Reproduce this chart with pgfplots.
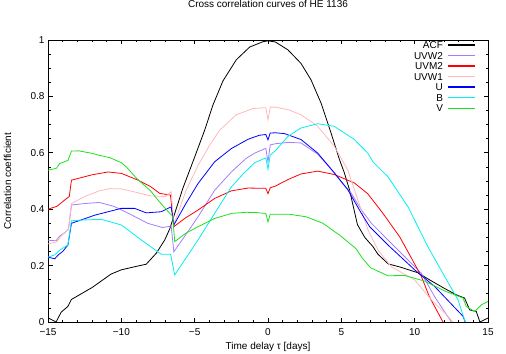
\documentclass[border=0pt]{standalone}
\usepackage{fontspec}
\setmainfont{Liberation Sans}
\usepackage{pgfplots}
\pgfplotsset{compat=1.18}

\definecolor{cUVWtwo}{RGB}{165,125,250}
\definecolor{cUVWone}{RGB}{255,185,190}
\definecolor{cV}{RGB}{30,225,30}
\definecolor{cB}{RGB}{0,240,240}

\newcommand{\gfont}{\fontsize{10bp}{10.5bp}\selectfont}
% legend row: colour, label, y (rel axis)
\newcommand{\legrow}[3]{%
  \draw[#1, line width=1.2bp] (rel axis cs:0.909,#3) -- (rel axis cs:0.970,#3);
  \node[font=\gfont, anchor=base east, inner sep=0pt] at ([yshift=-3.6bp]rel axis cs:0.898,#3) {#2};}

\begin{document}
\begin{tikzpicture}
\useasboundingbox (-48bp,-32bp) rectangle (458bp,322bp);
\begin{axis}[
  scale only axis, width=440bp, height=282bp,
  xmin=-15, xmax=15, ymin=0, ymax=1,
  xtick={-15,-10,...,15}, xticklabels={−15,−10,−5,0,5,10,15},
  ytick={0,0.2,...,1}, yticklabels={0,0.2,0.4,0.6,0.8,1},
  minor x tick num=4, minor y tick num=3,
  tick align=inside, major tick length=4.5bp, minor tick length=2.5bp,
  tick style={black, line width=0.6bp},
  axis line style={line width=0.8bp},
  tick label style={font=\gfont},
  xticklabel style={yshift=-3bp},
  title={Cross correlation curves of HE 1136},
  title style={font=\gfont, at={(axis description cs:0.5,1.106)}, anchor=center, yshift=0pt},
  xlabel={Time delay τ [days]},
  xlabel style={font=\gfont, at={(axis description cs:0.5,-0.087)}, anchor=center},
  ylabel={Correlation coefficient},
  ylabel style={font=\gfont, at={(axis description cs:-0.092,0.5)}, anchor=center},
  every axis plot/.append style={line width=0.8bp},
]
\addplot[black] coordinates {(-15,0.015)(-14.45,0.0)(-14.1,0.035)(-13.65,0.055)(-13.4,0.08)(-12,0.122)(-10.7,0.17)(-10,0.185)(-9,0.197)(-8.3,0.205)(-7.6,0.245)(-7.04,0.291)(-6.7,0.33)(-6.36,0.385)(-5.8,0.475)(-5,0.585)(-4.32,0.68)(-3.75,0.77)(-3.07,0.855)(-2.16,0.93)(-1.25,0.975)(-0.34,0.994)(0,0.997)(0.5,0.993)(1.36,0.965)(2.25,0.917)(2.93,0.859)(3.62,0.776)(4.3,0.67)(4.87,0.576)(5.2,0.53)(5.55,0.47)(6.1,0.345)(6.6,0.3)(7.16,0.267)(7.5,0.24)(8.2,0.206)(9,0.195)(10.2,0.175)(11,0.15)(12,0.12)(12.85,0.096)(13.4,0.085)(13.75,0.043)(14.2,0.037)(14.45,0.0)(15,0.014)};
\addplot[cUVWtwo] coordinates {(-15,0.29)(-14.45,0.288)(-14.2,0.305)(-13.9,0.315)(-13.6,0.33)(-13.4,0.415)(-12.5,0.42)(-11.5,0.424)(-10.5,0.41)(-9.5,0.385)(-8.2,0.35)(-7.2,0.335)(-6.6,0.34)(-6.42,0.249)(-5.6,0.31)(-4.77,0.373)(-3.64,0.467)(-2.5,0.532)(-1.5,0.58)(-0.9,0.599)(-0.15,0.616)(0,0.567)(0.15,0.628)(0.5,0.632)(1.36,0.637)(2.25,0.635)(3.39,0.595)(4.52,0.529)(5.1,0.49)(5.66,0.458)(6.37,0.397)(7.05,0.35)(8.41,0.279)(9.77,0.208)(10.46,0.173)(11.36,0.09)(12.5,0.0)};
\addplot[red] coordinates {(-15,0.40)(-14.4,0.41)(-13.8,0.435)(-13.55,0.445)(-13.4,0.503)(-12,0.522)(-10.9,0.532)(-10,0.527)(-8.86,0.503)(-8,0.48)(-7.38,0.456)(-6.9,0.452)(-6.65,0.45)(-6.42,0.338)(-5.6,0.37)(-4.77,0.397)(-3.64,0.438)(-2.5,0.465)(-1.36,0.475)(-0.15,0.474)(0,0.455)(0.15,0.476)(0.5,0.482)(1.36,0.505)(2.25,0.525)(3.39,0.535)(4.52,0.523)(5.89,0.493)(6.8,0.455)(7.5,0.408)(7.84,0.385)(8.98,0.302)(9.32,0.27)(10.1,0.196)(10.46,0.161)(11.0,0.09)(11.93,0.0)};
\addplot[cUVWone] coordinates {(-15,0.277)(-14.4,0.284)(-14.1,0.305)(-13.6,0.33)(-13.4,0.42)(-12.5,0.445)(-11.5,0.465)(-10.8,0.473)(-10,0.472)(-9,0.46)(-8,0.447)(-7,0.445)(-6.75,0.455)(-6.6,0.462)(-6.42,0.345)(-5.6,0.465)(-4.77,0.555)(-4.0,0.625)(-3.3,0.68)(-2.16,0.735)(-1.02,0.757)(-0.15,0.76)(0,0.717)(0.15,0.762)(0.5,0.762)(1.36,0.753)(2.25,0.735)(3.39,0.694)(4.52,0.623)(5.43,0.54)(5.89,0.47)(6.82,0.326)(7.5,0.255)(8.41,0.196)(10.0,0.149)(11.14,0.079)(12.27,0.02)(12.6,0.0)};
\addplot[blue] coordinates {(-15,0.23)(-14.54,0.224)(-14.3,0.238)(-14,0.25)(-13.64,0.273)(-13.4,0.35)(-11.8,0.379)(-10,0.403)(-9.1,0.403)(-8.3,0.387)(-7.27,0.391)(-6.7,0.406)(-6.6,0.408)(-6.42,0.344)(-5.6,0.42)(-4.77,0.491)(-3.64,0.568)(-2.5,0.615)(-1.36,0.648)(-0.6,0.662)(-0.15,0.665)(0,0.646)(0.15,0.67)(0.5,0.671)(1.13,0.668)(2.25,0.647)(3.39,0.599)(4.52,0.529)(5.43,0.47)(6.37,0.385)(6.93,0.338)(8.18,0.273)(10.0,0.185)(11.36,0.126)(13.3,0.02)(13.45,0.0)};
\addplot[cB] coordinates {(-15,0.23)(-14.54,0.238)(-14.2,0.255)(-13.64,0.273)(-13.4,0.359)(-12.5,0.362)(-11.36,0.364)(-10,0.344)(-8.64,0.291)(-7.27,0.24)(-6.64,0.24)(-6.36,0.167)(-4.77,0.291)(-3.64,0.385)(-2.5,0.479)(-1.7,0.525)(-0.9,0.565)(-0.15,0.582)(0,0.542)(0.15,0.592)(0.5,0.607)(1.36,0.658)(2.25,0.688)(3.39,0.703)(4.52,0.694)(5.89,0.647)(6.8,0.599)(7.16,0.568)(7.5,0.55)(8.18,0.515)(9.55,0.408)(10.9,0.267)(12.05,0.161)(12.95,0.079)(13.45,0.0)};
\addplot[cV] coordinates {(-15,0.538)(-14.43,0.545)(-14.2,0.562)(-13.64,0.573)(-13.4,0.606)(-12.9,0.607)(-12,0.598)(-11.5,0.591)(-10.8,0.583)(-10,0.565)(-9.66,0.55)(-8.97,0.51)(-8,0.465)(-7.5,0.432)(-6.7,0.385)(-6.5,0.375)(-6.36,0.285)(-5.6,0.315)(-4.77,0.338)(-3.64,0.367)(-2.5,0.385)(-1.5,0.389)(-0.8,0.388)(-0.15,0.385)(0,0.355)(0.15,0.382)(1.48,0.382)(2.61,0.373)(3.75,0.35)(4.55,0.32)(4.89,0.308)(6.0,0.26)(6.45,0.225)(7.0,0.192)(8.18,0.164)(9.32,0.165)(10.68,0.145)(12.05,0.11)(13.3,0.085)(13.52,0.055)(14.09,0.037)(14.55,0.061)(15,0.073)};
\legrow{black}{ACF}{0.982}
\legrow{cUVWtwo}{UVW2}{0.945}
\legrow{red}{UVM2}{0.908}
\legrow{cUVWone}{UVW1}{0.870}
\legrow{blue}{U}{0.833}
\legrow{cB}{B}{0.795}
\legrow{cV}{V}{0.758}
\end{axis}
\end{tikzpicture}
\end{document}
